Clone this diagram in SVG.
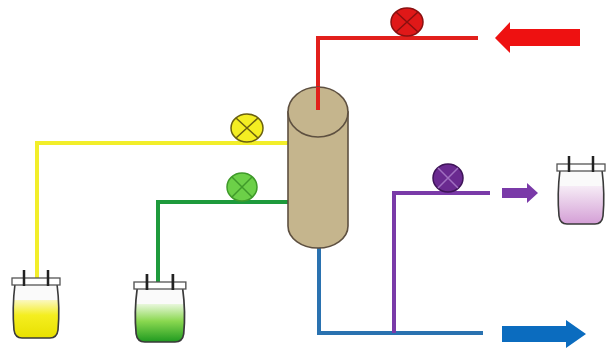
<svg xmlns="http://www.w3.org/2000/svg" width="606" height="351" viewBox="0 0 606 351">
  <style>
    .pipe { fill: none; stroke-width: 4; stroke-linejoin: miter; }
    .valve { stroke-width: 1.5; }
    .cross { stroke-width: 1.5; fill: none; }
    .body { fill: #fafafa; stroke: none; }
    .outline { fill: none; stroke: #3a3a3a; stroke-width: 1.6; }
    .post { stroke: #222; stroke-width: 2.5; }
    .bar { fill: #fff; stroke: #555; stroke-width: 1.3; }
  </style>
  <defs>
    <linearGradient id="yellowLiquid" x1="0" y1="0" x2="0" y2="1">
      <stop offset="0" stop-color="#fbf8c0"/>
      <stop offset="0.4" stop-color="#f4ee20"/>
      <stop offset="1" stop-color="#e8e000"/>
    </linearGradient>
    <linearGradient id="greenLiquid" x1="0" y1="0" x2="0" y2="1">
      <stop offset="0" stop-color="#e8f7dc"/>
      <stop offset="0.45" stop-color="#8ad850"/>
      <stop offset="1" stop-color="#1f9a20"/>
    </linearGradient>
    <linearGradient id="purpleLiquid" x1="0" y1="0" x2="0" y2="1">
      <stop offset="0" stop-color="#f6ecf6"/>
      <stop offset="1" stop-color="#d49fd6"/>
    </linearGradient>
    <path id="bagBody" d="M3,8 Q0,32 2,54 Q3,62 10,62 L38,62 Q45,62 46,54 Q48,32 45,8 Z"/>
    <path id="bagLiquid" d="M2,24 Q1,40 2,54 Q3,62 10,62 L38,62 Q45,62 46,54 Q47,40 46,24 Z"/>
    <g id="bagTop">
      <rect class="bar" x="0" y="2" width="48" height="7"/>
      <line class="post" x1="12" y1="-6" x2="12" y2="10"/>
      <line class="post" x1="36" y1="-6" x2="36" y2="10"/>
    </g>
  </defs>

  <!-- pipes -->
  <g id="connectors">
    <polyline class="pipe" stroke="#e2201c" points="318,108 318,38 478,38"/>
    <polyline class="pipe" stroke="#f2ee2a" points="288,143 37,143 37,282"/>
    <polyline class="pipe" stroke="#1e9a3c" points="288,202 158,202 158,286"/>
    <polyline class="pipe" stroke="#2a72b0" points="319,245 319,333 483,333"/>
    <polyline class="pipe" stroke="#7a3aa8" points="490,193 394,193 394,333"/>
    <!-- flow arrows -->
    <polygon fill="#ee1111" points="580,29 510,29 510,22 495,38 510,53 510,46 580,46"/>
    <polygon fill="#7a3aa8" points="502,188 527,188 527,183 538,193 527,203 527,198 502,198"/>
    <polygon fill="#0b6cbf" points="502,326 566,326 566,320 586,334 566,348 566,342 502,342"/>
  </g>

  <!-- separation column -->
  <g id="column">
    <path d="M288,112 L288,226 A30,22 0 0 0 348,226 L348,112 Z" fill="#c5b58d" stroke="#5e5040" stroke-width="1.6"/>
    <ellipse cx="318" cy="112" rx="30" ry="25" fill="#c5b58d" stroke="#5e5040" stroke-width="1.6"/>
    <line x1="318" y1="87" x2="318" y2="110" stroke="#e2201c" stroke-width="4"/>
  </g>

  <!-- valves -->
  <g id="valve-red">
    <ellipse class="valve" cx="407" cy="22" rx="16" ry="14" fill="#e01818" stroke="#8a1010"/>
    <path class="cross" stroke="#8a1010" d="M396,12 L418,32 M418,12 L396,32"/>
  </g>
  <g id="valve-yellow">
    <ellipse class="valve" cx="247" cy="128" rx="16" ry="14" fill="#f4ee22" stroke="#6a6010"/>
    <path class="cross" stroke="#6a6010" d="M236,118 L258,138 M258,118 L236,138"/>
  </g>
  <g id="valve-green">
    <ellipse class="valve" cx="242" cy="187" rx="15" ry="14" fill="#6cd048" stroke="#3f9a2a"/>
    <path class="cross" stroke="#3f9a2a" d="M232,177 L252,197 M252,177 L232,197"/>
  </g>
  <g id="valve-purple">
    <ellipse class="valve" cx="448" cy="178" rx="15" ry="14" fill="#6a2a90" stroke="#3e1458"/>
    <path class="cross" stroke="#a070c0" d="M438,168 L458,188 M458,168 L438,188"/>
  </g>

  <!-- collection bags -->
  <g id="bag-yellow" transform="translate(12,276)">
    <use href="#bagBody" class="body"/>
    <use href="#bagLiquid" fill="url(#yellowLiquid)"/>
    <use href="#bagBody" class="outline"/>
    <use href="#bagTop"/>
  </g>
  <g id="bag-green" transform="translate(134,280) scale(1.08,1)">
    <use href="#bagBody" class="body"/>
    <use href="#bagLiquid" fill="url(#greenLiquid)"/>
    <use href="#bagBody" class="outline"/>
    <use href="#bagTop"/>
  </g>
  <g id="bag-purple" transform="translate(557,162)">
    <use href="#bagBody" class="body"/>
    <use href="#bagLiquid" fill="url(#purpleLiquid)"/>
    <use href="#bagBody" class="outline"/>
    <use href="#bagTop"/>
  </g>
</svg>
